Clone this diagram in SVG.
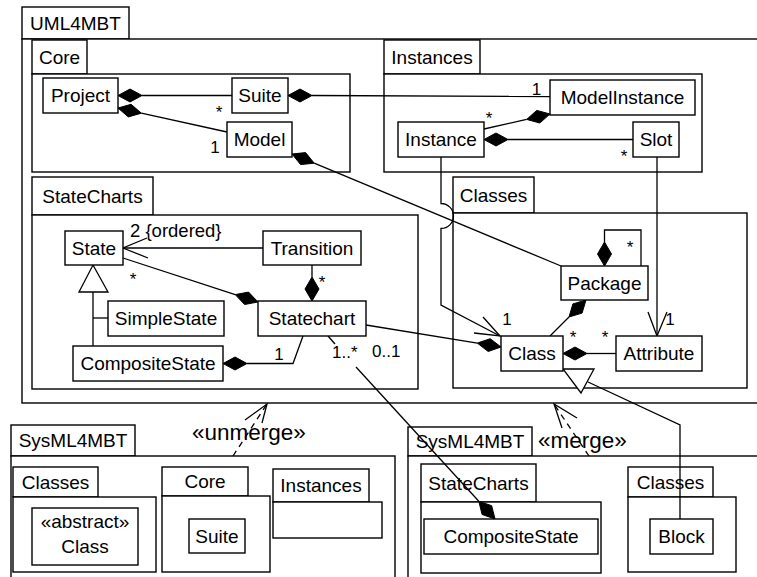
<svg xmlns="http://www.w3.org/2000/svg" width="757" height="577" viewBox="0 0 757 577">
<style>
.b{fill:#fff;stroke:#000;stroke-width:1.4}
.l{fill:none;stroke:#000;stroke-width:1.3}
.dash{fill:none;stroke:#000;stroke-width:1.3;stroke-dasharray:6 5}
.d{fill:#000;stroke:#000;stroke-width:1}
.tri{fill:#fff;stroke:#000;stroke-width:1.3}
text{font-family:"Liberation Sans",Arial,sans-serif;font-size:19px;fill:#000}
.c{text-anchor:middle}
.m{font-size:17px}
.o{font-size:18.5px}
.s{font-size:22.5px}
</style>
<rect width="757" height="577" fill="#fff"/>

<g id="pkg-uml4mbt">
<rect class="b" x="22" y="7" width="107" height="32"/>
<rect class="b" x="22" y="39" width="760" height="364"/>
<text class="c" x="75.5" y="30">UML4MBT</text>
</g>
<g id="pkg-core">
<rect class="b" x="32" y="40" width="55" height="34"/>
<rect class="b" x="32" y="74" width="318" height="98"/>
<text class="c" x="59.5" y="64">Core</text>
</g>
<g id="pkg-instances">
<rect class="b" x="384" y="40" width="96" height="34"/>
<rect class="b" x="384" y="74" width="318" height="98"/>
<text class="c" x="432" y="64">Instances</text>
</g>
<g id="pkg-statecharts">
<rect class="b" x="32" y="177" width="121" height="38"/>
<rect class="b" x="32" y="215" width="386" height="174"/>
<text class="c" x="92.5" y="203">StateCharts</text>
</g>
<g id="pkg-classes">
<rect class="b" x="453" y="177" width="81" height="36"/>
<rect class="b" x="453" y="213" width="294" height="175"/>
<text class="c" x="493.5" y="202">Classes</text>
</g>

<g id="pkg-sysml-left">
<rect class="b" x="11" y="425" width="124" height="31"/>
<rect class="b" x="11" y="456" width="384" height="130"/>
<text class="c" x="73" y="447">SysML4MBT</text>
</g>
<g id="pkg-sysml-left-classes">
<rect class="b" x="13" y="467" width="85" height="30"/>
<rect class="b" x="13" y="497" width="143" height="75"/>
<text class="c" x="55.5" y="489">Classes</text>
</g>
<g id="pkg-sysml-left-core">
<rect class="b" x="162" y="467" width="86" height="29"/>
<rect class="b" x="162" y="496" width="108" height="76"/>
<text class="c" x="205" y="488">Core</text>
</g>
<g id="pkg-sysml-left-instances">
<rect class="b" x="273" y="469" width="96" height="33"/>
<rect class="b" x="273" y="502" width="109" height="36"/>
<text class="c" x="321" y="492">Instances</text>
</g>
<g id="pkg-sysml-right">
<rect class="b" x="408" y="427" width="124" height="29"/>
<rect class="b" x="408" y="456" width="360" height="130"/>
<text class="c" x="470" y="448">SysML4MBT</text>
</g>
<g id="pkg-sysml-right-statecharts">
<rect class="b" x="421" y="464" width="115" height="38"/>
<rect class="b" x="421" y="502" width="180" height="71"/>
<text class="c" x="478.5" y="490">StateCharts</text>
</g>
<g id="pkg-sysml-right-classes">
<rect class="b" x="628" y="467" width="85" height="30"/>
<rect class="b" x="628" y="497" width="108" height="75"/>
<text class="c" x="670.5" y="489">Classes</text>
</g>

<g id="connectors">
<polygon class="d" points="118,95.5 130,89 142,95.5 130,102"/>
<line class="l" x1="142" y1="95.5" x2="232" y2="95.5"/>
<polygon class="d" points="118,108 128.3,116.9 141.4,113.2 131.1,104.3"/>
<line class="l" x1="141.4" y1="113.2" x2="227" y2="132"/>
<polygon class="d" points="288,95.5 300,89 312,95.5 300,102"/>
<line class="l" x1="312" y1="95.5" x2="550" y2="96.5"/>
<polygon class="d" points="550,114 539.8,123 526.6,119.4 536.8,110.4"/>
<line class="l" x1="526.6" y1="119.4" x2="484" y2="129"/>
<polygon class="d" points="484,139.5 496,133 508,139.5 496,146"/>
<line class="l" x1="508" y1="139.5" x2="633" y2="139.5"/>
<polygon class="d" points="292,154 300.6,164.6 314.2,163.2 305.6,152.6"/>
<line class="l" x1="314.2" y1="163.2" x2="561" y2="266"/>
<path class="l" d="M441,157 V203.5 A12.5,12.5 0 0 1 441,228.5 V305 L500,336"/>
<polyline class="l" points="483,317 500,336 474,333"/>
<line class="l" x1="657" y1="157" x2="657" y2="336"/>
<polyline class="l" points="648,312 657,336 667,312"/>
<polygon class="d" points="604.5,266 611.5,254 604.5,242 597.5,254"/>
<polyline class="l" points="604.5,242 604.5,230 641,230 641,266"/>
<polygon class="d" points="586,300 582.1,313.1 569,317 572.9,303.9"/>
<line class="l" x1="569" y1="317" x2="550" y2="336"/>
<polygon class="d" points="563,353.5 575,347 587,353.5 575,360"/>
<line class="l" x1="587" y1="353.5" x2="616" y2="353.5"/>
<polygon class="d" points="501,347 490.2,338.7 477.3,343.1 488.2,351.5"/>
<line class="l" x1="366" y1="325" x2="477.3" y2="343.1"/>
<line class="l" x1="328" y1="336" x2="335" y2="344"/>
<line class="l" x1="356" y1="367" x2="478.8" y2="501.3"/>
<polygon class="d" points="495,519 491.7,505.7 478.8,501.3 482.1,514.5"/>
<line class="l" x1="263" y1="248" x2="123" y2="248"/>
<polyline class="l" points="147,238 123,248 148,258"/>
<polygon class="d" points="258,302 248.6,292.1 235.2,294.6 244.6,304.5"/>
<line class="l" x1="123" y1="258" x2="235.2" y2="294.6"/>
<line class="l" x1="312" y1="265" x2="312" y2="277"/>
<polygon class="d" points="312,301 319,289 312,277 305,289"/>
<polygon class="tri" points="93,265 108,292 79,292"/>
<line class="l" x1="93" y1="292" x2="93" y2="346"/>
<line class="l" x1="93" y1="318" x2="108" y2="318"/>
<polygon class="d" points="223,363.5 235,357 247,363.5 235,370"/>
<polyline class="l" points="247,363.5 293,363.5 303,336"/>
<polyline class="l" points="680,519 680,425 588,382"/>
<polygon class="tri" points="563,369 594,369 581,393"/>
<line class="dash" x1="233" y1="456" x2="267" y2="404"/>
<polyline class="l" points="245,420 267,404 262,423"/>
<line class="dash" x1="589" y1="456" x2="554" y2="404"/>
<polyline class="l" points="562,428 554,404 577,418"/>
</g>

<g id="labels">
<text class="m c" x="219" y="118">*</text>
<text class="m c" x="215" y="153">1</text>
<text class="m c" x="536.5" y="95">1</text>
<text class="m c" x="489" y="124">*</text>
<text class="m c" x="624" y="162">*</text>
<text class="o" x="130" y="237">2 {ordered}</text>
<text class="m c" x="133" y="285">*</text>
<text class="m c" x="322" y="288">*</text>
<text class="m c" x="279" y="360">1</text>
<text class="m" x="332" y="358">1..*</text>
<text class="m" x="372" y="357">0..1</text>
<text class="m c" x="507" y="325">1</text>
<text class="m c" x="670" y="325">1</text>
<text class="m c" x="630" y="253">*</text>
<text class="m c" x="573" y="343">*</text>
<text class="m c" x="605" y="343">*</text>
<text class="s" x="192" y="440">«unmerge»</text>
<text class="s" x="538" y="448">«merge»</text>
</g>

<g id="node-project"><rect class="b" x="43" y="78" width="75" height="35"/><text class="c" x="80.5" y="102">Project</text></g>
<g id="node-suite"><rect class="b" x="232" y="78" width="56" height="35"/><text class="c" x="260" y="102">Suite</text></g>
<g id="node-model"><rect class="b" x="227" y="122" width="65" height="35"/><text class="c" x="259.5" y="146">Model</text></g>
<g id="node-modelinstance"><rect class="b" x="550" y="80" width="145" height="35"/><text class="c" x="622.5" y="104">ModelInstance</text></g>
<g id="node-instance"><rect class="b" x="398" y="122" width="86" height="35"/><text class="c" x="441" y="146">Instance</text></g>
<g id="node-slot"><rect class="b" x="633" y="122" width="46" height="35"/><text class="c" x="656" y="146">Slot</text></g>
<g id="node-state"><rect class="b" x="65" y="231" width="58" height="34"/><text class="c" x="94" y="255">State</text></g>
<g id="node-transition"><rect class="b" x="263" y="231" width="98" height="34"/><text class="c" x="312" y="255">Transition</text></g>
<g id="node-simplestate"><rect class="b" x="108" y="301" width="116" height="35"/><text class="c" x="166" y="325">SimpleState</text></g>
<g id="node-statechart"><rect class="b" x="258" y="301" width="108" height="35"/><text class="c" x="312" y="325">Statechart</text></g>
<g id="node-compositestate"><rect class="b" x="73" y="346" width="150" height="35"/><text class="c" x="148" y="370">CompositeState</text></g>
<g id="node-package"><rect class="b" x="561" y="266" width="87" height="34"/><text class="c" x="604.5" y="290">Package</text></g>
<g id="node-class"><rect class="b" x="501" y="336" width="62" height="35"/><text class="c" x="532" y="360">Class</text></g>
<g id="node-attribute"><rect class="b" x="616" y="336" width="86" height="35"/><text class="c" x="659" y="360">Attribute</text></g>
<g id="node-abstract-class"><rect class="b" x="32" y="508" width="106" height="57"/><text class="c" x="85" y="528">«abstract»</text><text class="c" x="85" y="553">Class</text></g>
<g id="node-sysml-suite"><rect class="b" x="189" y="519" width="56" height="34"/><text class="c" x="217" y="543">Suite</text></g>
<g id="node-sysml-compositestate"><rect class="b" x="424" y="519" width="174" height="35"/><text class="c" x="511" y="543">CompositeState</text></g>
<g id="node-block"><rect class="b" x="650" y="519" width="63" height="35"/><text class="c" x="681.5" y="543">Block</text></g>
</svg>
